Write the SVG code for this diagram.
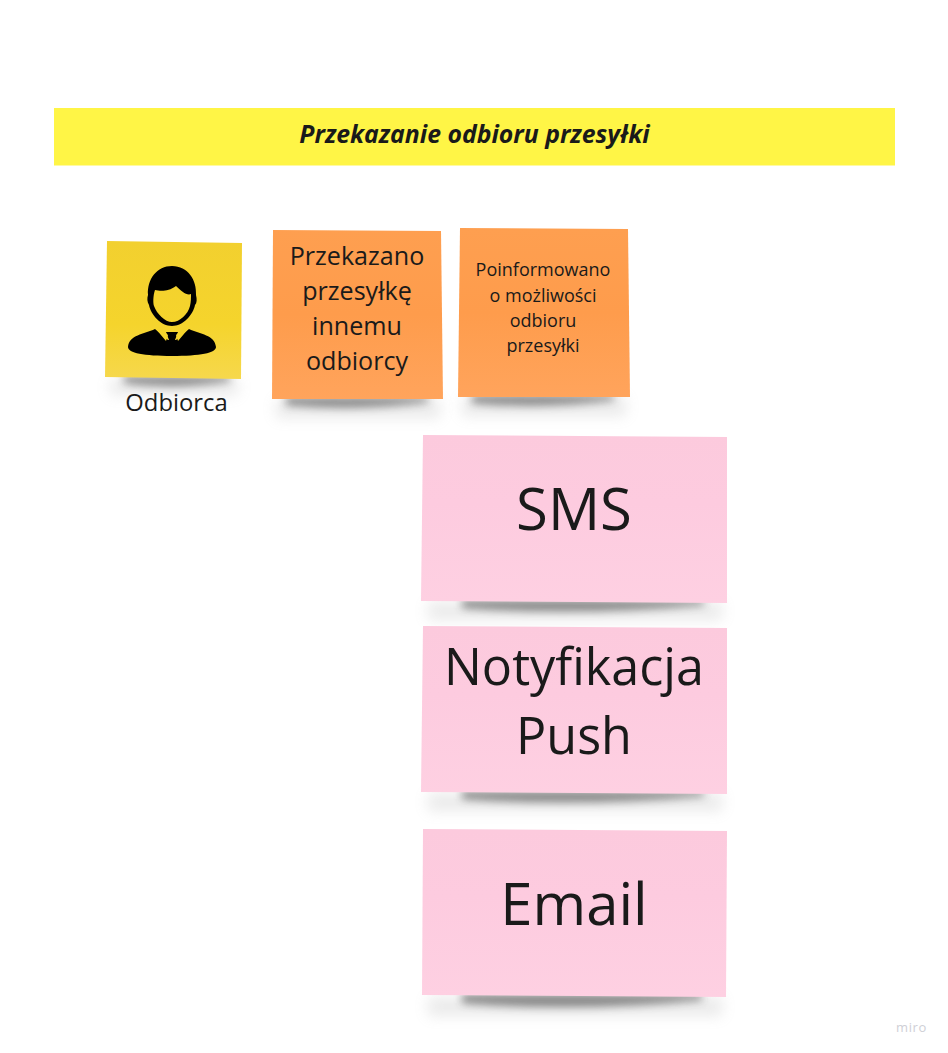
<svg xmlns="http://www.w3.org/2000/svg" width="948" height="1053" viewBox="0 0 948 1053">
<style>
text{font-family:"Open Sans","Noto Sans","DejaVu Sans",sans-serif;fill:#1a1a1a;text-anchor:middle}
.big{font-size:58px}.push{font-size:50.300px}.mid{font-size:25.100px}.sm{font-size:18px}
.sh{fill:#444;opacity:.62;filter:url(#b)}.sh2{fill:#999;opacity:.2;filter:url(#c)}
</style>
<defs>
<filter id="b" x="-20%" y="-150%" width="140%" height="400%"><feGaussianBlur stdDeviation="4"/></filter>
<filter id="c" x="-20%" y="-150%" width="140%" height="400%"><feGaussianBlur stdDeviation="7"/></filter>
<linearGradient id="pk" x1="0" y1="0" x2="0" y2="1"><stop offset="0" stop-color="#fccadd"/><stop offset=".4" stop-color="#fdcbdf"/><stop offset="1" stop-color="#fed0e2"/></linearGradient>
<linearGradient id="or" x1="0" y1="0" x2="0" y2="1"><stop offset="0" stop-color="#fe9f50"/><stop offset=".5" stop-color="#fe9c4c"/><stop offset="1" stop-color="#ffa45c"/></linearGradient>
<linearGradient id="ye" x1="0" y1="0" x2="0" y2="1"><stop offset="0" stop-color="#f2d02f"/><stop offset=".6" stop-color="#f5d42c"/><stop offset="1" stop-color="#f6d84c"/></linearGradient>
</defs>
<rect width="948" height="1053" fill="#fff"/>
<g id="title"><rect x="54" y="108" width="841" height="57.500" fill="#fff546"/>
<text x="474.500" y="143" font-size="24.800" font-weight="700" font-style="italic">Przekazanie odbioru przesyłki</text></g>
<g id="odbiorca">
<path d="M110 379H238V395H110Z" class="sh2"/>
<path d="M124 376H230V381Q175 390 124 383Z" class="sh"/>
<path d="M107 241L242 243L241 379L105 377Z" fill="url(#ye)"/>
<path d="M172 266C188 266 197 280 196 295C197 299 197 303 195 305C193 315 183 326 172 326C161 326 151 315 149 305C147 302 147 298 148 295C147 279 157 266 172 266ZM176 286C168 292 160 291 155 290C153 296 153 303 154 306C157 314 165 322 172 322C180 322 188 314 190 306C191 302 191 297 191 294C187 296 181 291 176 286Z" fill="#000"/>
<path d="M155 329L168 340H176L189 329C200 334 215 335 216 347C216 353 200 356 172 356C144 356 128 353 128 347C129 335 144 334 155 329Z" fill="#000"/>
<path d="M166 332H178L175 340L177 352H167L169 340Z" fill="#000"/>
<path d="M155 328L166 341L168 335L159 326ZM189 328L178 341L176 335L185 326Z" fill="#f5d42c"/>
<text x="176.500" y="411" font-size="23.800">Odbiorca</text></g>
<g id="przekazano">
<path d="M276 399H440V418H276Z" class="sh2"/>
<path d="M286 397H428V402Q360 411 286 405Z" class="sh"/>
<path d="M273 230L441 231L443 399L272 399Z" fill="url(#or)"/>
<text class="mid" x="357" y="265">Przekazano</text><text class="mid" x="357" y="300">przesyłkę</text><text class="mid" x="357" y="335">innemu</text><text class="mid" x="357" y="370">odbiorcy</text></g>
<g id="poinformowano">
<path d="M462 397H626V416H462Z" class="sh2"/>
<path d="M472 395H614V400Q545 409 472 403Z" class="sh"/>
<path d="M460 228L628 229L630 397L458 397Z" fill="url(#or)"/>
<text class="sm" x="543" y="276">Poinformowano</text><text class="sm" x="543" y="302">o możliwości</text><text class="sm" x="543" y="327">odbioru</text><text class="sm" x="543" y="352">przesyłki</text></g>
<g id="sms">
<path d="M428 602H722V620H428Z" class="sh2"/>
<path d="M462 600H704V605Q580 616 462 608Z" class="sh"/>
<path d="M423 435L727 437L727 603L421 601Z" fill="url(#pk)"/>
<text class="big" x="574" y="530">SMS</text></g>
<g id="push">
<path d="M428 793H722V811H428Z" class="sh2"/>
<path d="M462 791H704V796Q580 807 462 799Z" class="sh"/>
<path d="M423 626L727 628L727 794L421 792Z" fill="url(#pk)"/>
<text class="push" x="574" y="685">Notyfikacja</text><text class="push" x="574" y="754">Push</text></g>
<g id="email">
<path d="M428 997H722V1016H428Z" class="sh2"/>
<path d="M462 994H702V1000Q580 1012 462 1003Z" class="sh"/>
<path d="M423 829L727 831L726 997L422 995Z" fill="url(#pk)"/>
<text class="big" x="574" y="925">Email</text></g>
<text x="911.500" y="1032" font-size="13" style="fill:#cfcfd6" letter-spacing=".6">miro</text>
</svg>
